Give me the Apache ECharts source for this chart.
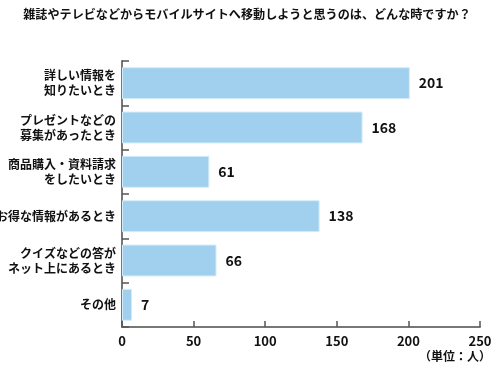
<!DOCTYPE html>
<html><head><meta charset="utf-8">
<script src="https://cdn.jsdelivr.net/npm/echarts@6/dist/echarts.min.js"></script>
<style>html,body{margin:0;padding:0;background:#fff}#c{width:494px;height:372px}</style>
</head><body><div id="c"></div>
<script>
const categories = ['詳しい情報を\n知りたいとき','プレゼントなどの\n募集があったとき','商品購入・資料請求\nをしたいとき','お得な情報があるとき','クイズなどの答が\nネット上にあるとき','その他'];
const values = [201,168,61,138,66,7];
const xTicks = [0,50,100,150,200,250];
const titleText = '雑誌やテレビなどからモバイルサイトへ移動しようと思うのは、どんな時ですか？';
const unitText = '（単位：人）';
const font = '"Noto Sans CJK JP", sans-serif';
const chart = echarts.init(document.getElementById('c'));
chart.setOption({
  animation:false,
  title:{text:titleText,left:'center',top:3,textStyle:{fontFamily:font,fontSize:12.1,fontWeight:'bold',color:'#111'}},
  graphic:[{type:'text',right:3,top:350,style:{text:unitText,font:'bold 12px '+font,fill:'#111'}}],
  grid:{left:122,right:14,top:61,bottom:45,containLabel:false,outerBoundsMode:'none'},
  xAxis:{type:'value',min:xTicks[0],max:xTicks[xTicks.length-1],interval:50,
    axisLine:{show:true,lineStyle:{color:'#777',width:2}},
    axisTick:{show:true,inside:true,length:6,lineStyle:{color:'#555',width:1.5}},
    splitLine:{show:false},
    axisLabel:{margin:8,fontFamily:font,fontSize:13,fontWeight:'bold',color:'#111'}},
  yAxis:{type:'category',data:categories,inverse:true,
    axisLine:{show:true,lineStyle:{color:'#777',width:2}},
    axisTick:{show:true,inside:true,length:7,lineStyle:{color:'#555',width:1.5}},
    axisLabel:{margin:6,fontFamily:font,fontSize:12,fontWeight:'bold',color:'#111',lineHeight:15,align:'right'}},
  series:[{type:'bar',data:values,barCategoryGap:'28%',
    itemStyle:{color:'#a0d0ee',borderColor:'#d4ecfa',borderWidth:1},
    label:{show:true,position:'right',distance:9,fontFamily:font,fontSize:14,fontWeight:'bold',color:'#111'}}]
});
</script></body></html>
